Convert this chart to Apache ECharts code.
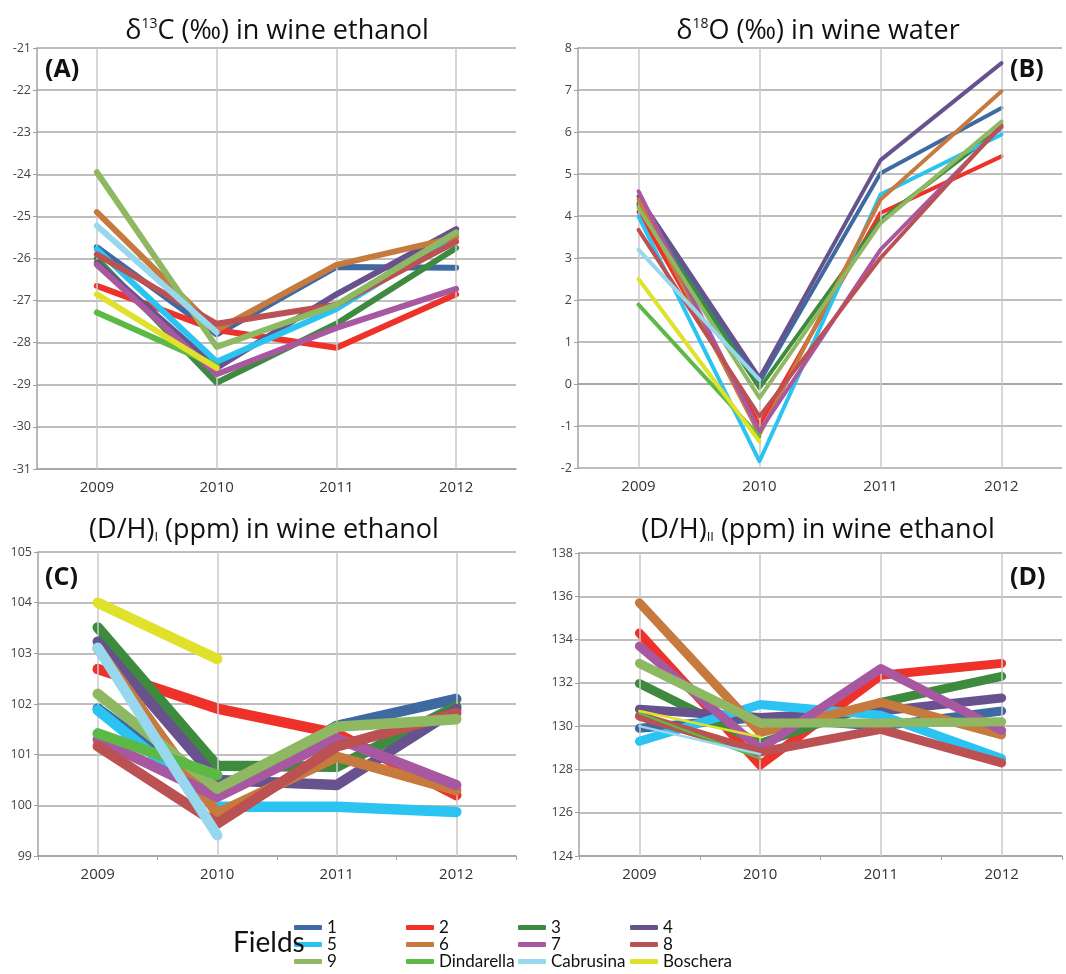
<!DOCTYPE html>
<html>
<head>
<meta charset="utf-8">
<script src="https://cdn.jsdelivr.net/npm/echarts@6/dist/echarts.min.js"></script>
<style>
html,body{margin:0;padding:0;background:#fff;}
#chart{width:1066px;height:974px;}
</style>
</head>
<body>
<div id="chart"></div>
<script>
// ---- data ----
const years = ['2009', '2010', '2011', '2012'];
const fields = ['1', '2', '3', '4', '5', '6', '7', '8', '9', 'Dindarella', 'Cabrusina', 'Boschera'];
const fieldColors = ['#3e6aa1', '#ee3129', '#3e8a3e', '#67528d', '#2bc3f1', '#c77a3d', '#a858a0', '#bb5153', '#8eb962', '#5cb946', '#97d8ee', '#dfe12b'];

// (A) δ13C (‰) in wine ethanol, rows in field order
const d13C = [
  [-25.73, -27.80, -26.20, -26.22],
  [-26.65, -27.70, -28.12, -26.85],
  [-26.00, -28.95, -27.55, -25.75],
  [-26.10, -28.60, -26.85, -25.30],
  [-25.78, -28.45, -27.20, -25.45],
  [-24.90, -27.70, -26.15, -25.50],
  [-26.15, -28.75, -27.65, -26.72],
  [-25.90, -27.55, -27.10, -25.60],
  [-23.95, -28.10, -27.10, -25.38],
  [-27.28, -28.55, null, null],
  [-25.22, -27.75, null, null],
  [-26.85, -28.60, null, null]
];
// (B) δ18O (‰) in wine water
const d18O = [
  [4.30, 0.05, 5.02, 6.57],
  [4.10, -0.97, 4.07, 5.42],
  [4.25, -0.10, 3.90, 6.10],
  [4.47, 0.15, 5.33, 7.64],
  [3.99, -1.84, 4.51, 5.94],
  [4.39, -1.20, 4.39, 6.97],
  [4.59, -1.13, 3.20, 6.13],
  [3.67, -0.77, 3.00, 6.17],
  [4.19, -0.33, 3.83, 6.25],
  [1.89, -1.25, null, null],
  [3.20, 0.10, null, null],
  [2.50, -1.37, null, null]
];
// (C) (D/H)I (ppm) in wine ethanol
const dhI = [
  [101.91, 100.20, 101.57, 102.10],
  [102.69, 101.91, 101.42, 100.20],
  [103.51, 100.78, 100.76, 101.95],
  [103.23, 100.50, 100.40, 101.90],
  [101.88, 99.97, 99.97, 99.87],
  [103.10, 99.84, 100.96, 100.30],
  [101.30, 100.17, 101.32, 100.40],
  [101.17, 99.64, 101.16, 101.82],
  [102.20, 100.33, 101.55, 101.70],
  [101.42, 100.60, null, null],
  [103.11, 99.41, null, null],
  [104.00, 102.89, null, null]
];
// (D) (D/H)II (ppm) in wine ethanol
const dhII = [
  [129.90, 130.40, 130.00, 130.70],
  [134.30, 128.20, 132.35, 132.90],
  [131.97, 129.20, 131.10, 132.30],
  [130.78, 130.40, 130.70, 131.30],
  [129.30, 131.00, 130.50, 128.50],
  [135.70, 129.70, 131.10, 129.60],
  [133.70, 128.95, 132.66, 129.80],
  [130.46, 128.80, 129.85, 128.30],
  [132.90, 130.15, 130.15, 130.20],
  [130.60, 128.50, null, null],
  [130.00, 128.70, null, null],
  [130.70, 129.50, null, null]
];
const yTicksA = {min: -31, max: -21, interval: 1};
const yTicksB = {min: -2, max: 8, interval: 1};
const yTicksC = {min: 99, max: 105, interval: 1};
const yTicksD = {min: 124, max: 138, interval: 2};

// ---- layout ----
const grids = [
  {left: 37, top: 48, width: 479, height: 421},
  {left: 578, top: 48, width: 484, height: 420},
  {left: 38, top: 552, width: 478, height: 304},
  {left: 579, top: 553, width: 483, height: 303}
];
const panelData = [d13C, d18O, dhI, dhII];
const panelTicks = [yTicksA, yTicksB, yTicksC, yTicksD];
const panelWidths = [6, 4, 10.5, 9];
const thinWidthD = 2.5;
const showTicks = [false, false, true, true];

const FONT = '"Open Sans", "DejaVu Sans", sans-serif';
const LEG = 'Lato, "Open Sans", sans-serif';

const xAxes = grids.map((g, i) => ({
  type: 'category', gridIndex: i, data: years, boundaryGap: true,
  axisLine: {show: true, lineStyle: {color: '#a0a0a0', width: 1.5}},
  axisTick: {show: showTicks[i], length: 4, lineStyle: {color: '#a0a0a0'}},
  axisLabel: {color: '#333', fontSize: 15, fontFamily: FONT, margin: 11},
  splitLine: {show: false}
}));
const yAxes = grids.map((g, i) => ({
  type: 'value', gridIndex: i,
  min: panelTicks[i].min, max: panelTicks[i].max, interval: panelTicks[i].interval,
  axisLine: {show: true, lineStyle: {color: '#a0a0a0', width: 1.5}},
  axisTick: {show: true, length: 4, lineStyle: {color: '#a0a0a0'}},
  axisLabel: {color: '#444', fontSize: 12.5, fontFamily: FONT, margin: 6},
  splitLine: {show: true, lineStyle: {color: '#a8a8a8', width: 1.5}}
}));

const series = [];
grids.forEach((g, p) => {
  // vertical grid lines at category centres
  series.push({
    type: 'line', name: '_grid' + p, xAxisIndex: p, yAxisIndex: p, data: [], z: 1, silent: true,
    markLine: {
      silent: true, symbol: 'none', label: {show: false},
      lineStyle: {color: '#c8c8c8', type: 'solid', width: 1.5},
      data: years.map(y => ({xAxis: y}))
    }
  });
  fields.forEach((f, k) => {
    const thin = p === 3 && k >= 9;
    series.push({
      type: 'line', name: f, xAxisIndex: p, yAxisIndex: p,
      data: panelData[p][k], showSymbol: false, symbol: 'none', connectNulls: false,
      z: 2 + k, animation: false,
      lineStyle: {color: fieldColors[k], width: thin ? thinWidthD : panelWidths[p], cap: 'round', join: 'round'},
      itemStyle: {color: fieldColors[k]}
    });
  });
});

// legend: one component per item, 3 rows x 4 columns
const legendCols = [294, 406, 518, 630];
const legendRows = [919, 936, 953];
const legends = fields.map((f, k) => ({
  data: [f], left: legendCols[k % 4], top: legendRows[Math.floor(k / 4)],
  icon: 'roundRect', itemWidth: 28, itemHeight: 5, itemGap: 0, padding: 0,
  textStyle: {fontSize: 17, color: '#111', fontFamily: LEG, padding: [0, 0, 0, 0]},
  selectedMode: false
}));

const titleRich = {
  n: {fontSize: 27, fontFamily: FONT, color: '#111'},
  sup: {fontSize: 14, fontFamily: FONT, color: '#111', padding: [0, 0, 14, 0]},
  sub: {fontSize: 13, fontFamily: FONT, color: '#111', padding: [14, 0, 0, 0]}
};
function titleText(x, y, text) {
  return {type: 'text', x: x, y: y, z: 100,
    style: {text: text, rich: titleRich, align: 'center', verticalAlign: 'middle', fill: '#111'}};
}
function panelLabel(x, y, text) {
  return {type: 'text', x: x, y: y, z: 100,
    style: {text: text, fontSize: 25, fontWeight: 'bold', fontFamily: FONT, fill: '#111', align: 'left', verticalAlign: 'middle'}};
}

const graphics = [
  titleText(277, 31, '{n|δ}{sup|13}{n|C (‰) in wine ethanol}'),
  titleText(818, 31, '{n|δ}{sup|18}{n|O (‰) in wine water}'),
  titleText(264, 530, '{n|(D/H)}{sub|I}{n| (ppm) in wine ethanol}'),
  titleText(818, 530, '{n|(D/H)}{sub|II}{n| (ppm) in wine ethanol}'),
  panelLabel(45, 70, '(A)'),
  panelLabel(1010, 70, '(B)'),
  panelLabel(45, 578, '(C)'),
  panelLabel(1010, 578, '(D)'),
  {type: 'text', x: 233, y: 943, z: 100,
    style: {text: 'Fields', fontSize: 28, fontFamily: LEG, fill: '#111', align: 'left', verticalAlign: 'middle'}}
];

const chart = echarts.init(document.getElementById('chart'), null, {renderer: 'canvas'});
chart.setOption({
  backgroundColor: '#ffffff',
  animation: false,
  grid: grids,
  xAxis: xAxes,
  yAxis: yAxes,
  legend: legends,
  series: series,
  graphic: graphics
});
</script>
</body>
</html>
